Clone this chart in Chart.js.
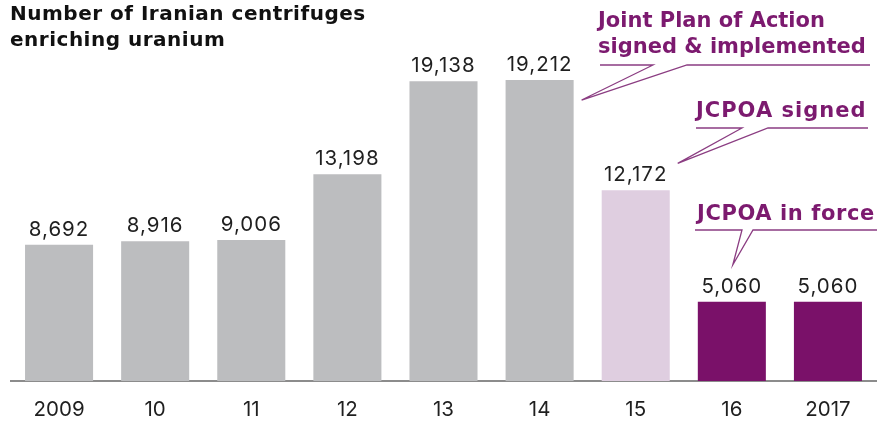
<!DOCTYPE html>
<html>
<head>
<meta charset="utf-8">
<title>Iranian centrifuges</title>
<script src="https://cdn.jsdelivr.net/npm/chart.js@4.4.0/dist/chart.umd.min.js"></script>
<style>
    html, body { margin: 0; padding: 0; background: #ffffff; }
    #wrap { position: relative; width: 881px; height: 423px; }
</style>
</head>
<body>
<div id="wrap"><canvas id="chart"></canvas></div>
<script>
// years on the x axis (only first and last written in full)
const years = ['2009', '10', '11', '12', '13', '14', '15', '16', '2017'];

// centrifuges enriching uranium each year
const centrifuges = [8692, 8916, 9006, 13198, 19138, 19212, 12172, 5060, 5060];

// grey before the deals, pale purple for the year JCPOA was signed, dark purple once in force
const barColors = ['#bcbdbf', '#bcbdbf', '#bcbdbf', '#bcbdbf', '#bcbdbf', '#bcbdbf',
                   '#dfcee0', '#7a1169', '#7a1169'];

// callout texts and the bar each one points at
const calloutText = [
    ['Joint Plan of Action', 'signed & implemented'],
    ['JCPOA signed'],
    ['JCPOA in force']
];
const calloutBar = [5, 6, 7];

const PURPLE_TEXT = '#7c1a6f';
const PURPLE_LINE = '#8b3d82';
const TEXT_DARK = '#1f1f1f';
const FONT = 'Inter, "Liberation Sans", Arial, sans-serif';
const FONT_BOLD = '"DejaVu Sans", Arial, sans-serif';

// layout of each callout: text corner, ledge line and where the tail tip sits
// relative to its bar (dx from bar centre, dy from bar top)
const calloutLayout = [
    { x: 598, y: [27, 53], spacing: 0, ledge: 65, left: [600, 653], right: [687, 870], dx: 42, dy: 20 },
    { x: 696, y: [117], spacing: 1, ledge: 128, left: [696, 742], right: [768, 868], dx: 42, dy: -27 },
    { x: 697, y: [220], spacing: 0.6, ledge: 230, left: [695, 742], right: [753, 877], dx: 1, dy: -37 }
];

function formatNumber(num) {
    return num.toLocaleString('en-US');
}

// title, value labels over bars and the purple callouts
const decorations = {
    id: 'decorations',
    afterDatasetsDraw(chart) {
        const ctx = chart.ctx;
        const meta = chart.getDatasetMeta(0);

        ctx.save();

        // title in the top left
        ctx.fillStyle = '#111111';
        ctx.font = 'bold 20px ' + FONT_BOLD;
        ctx.letterSpacing = '0.5px';
        ctx.textAlign = 'left';
        ctx.textBaseline = 'alphabetic';
        ctx.fillText('Number of Iranian centrifuges', 10, 20);
        ctx.fillText('enriching uranium', 10, 46);

        // numbers on top of each bar
        ctx.font = '20.5px ' + FONT;
        ctx.letterSpacing = '1px';
        ctx.fillStyle = TEXT_DARK;
        ctx.textAlign = 'center';
        for (let i = 0; i < meta.data.length; i++) {
            const bar = meta.data[i];
            ctx.fillText(formatNumber(centrifuges[i]), bar.x, bar.y - 9);
        }

        // callouts
        for (let c = 0; c < calloutText.length; c++) {
            const lay = calloutLayout[c];
            const bar = meta.data[calloutBar[c]];
            const tipX = bar.x + lay.dx;
            const tipY = bar.y + lay.dy;

            ctx.fillStyle = PURPLE_TEXT;
            ctx.font = 'bold 21px ' + FONT_BOLD;
            ctx.letterSpacing = lay.spacing + 'px';
            ctx.textAlign = 'left';
            for (let k = 0; k < calloutText[c].length; k++) {
                ctx.fillText(calloutText[c][k], lay.x, lay.y[k]);
            }

            ctx.strokeStyle = PURPLE_LINE;
            ctx.lineWidth = 1.3;
            ctx.beginPath();
            ctx.moveTo(lay.left[0], lay.ledge);
            ctx.lineTo(lay.left[1], lay.ledge);
            ctx.lineTo(tipX, tipY);
            ctx.lineTo(lay.right[0], lay.ledge);
            ctx.lineTo(lay.right[1], lay.ledge);
            ctx.stroke();
        }

        ctx.restore();
    }
};

const ctx = document.getElementById('chart').getContext('2d');

new Chart(ctx, {
    type: 'bar',
    data: {
        labels: years,
        datasets: [{
            data: centrifuges,
            backgroundColor: barColors,
            borderWidth: 0,
            categoryPercentage: 1,
            barPercentage: 0.708
        }]
    },
    options: {
        responsive: true,
        maintainAspectRatio: false,
        animation: false,
        layout: {
            padding: { left: 11, right: 5, top: 5, bottom: 0 }
        },
        plugins: {
            legend: { display: false },
            tooltip: { enabled: false }
        },
        scales: {
            x: {
                grid: { display: false, drawTicks: false },
                border: { display: true, color: '#8c8c8c', width: 2 },
                ticks: {
                    color: TEXT_DARK,
                    font: { family: FONT, size: 20.5 },
                    padding: 17,
                    maxRotation: 0,
                    autoSkip: false
                },
                // keep the axis strip a fixed height so the baseline sits near the bottom
                afterFit: function(scale) {
                    scale.height = 42;
                }
            },
            y: {
                display: false,
                min: 0,
                max: 24000
            }
        }
    },
    plugins: [decorations]
});
</script>
</body>
</html>
